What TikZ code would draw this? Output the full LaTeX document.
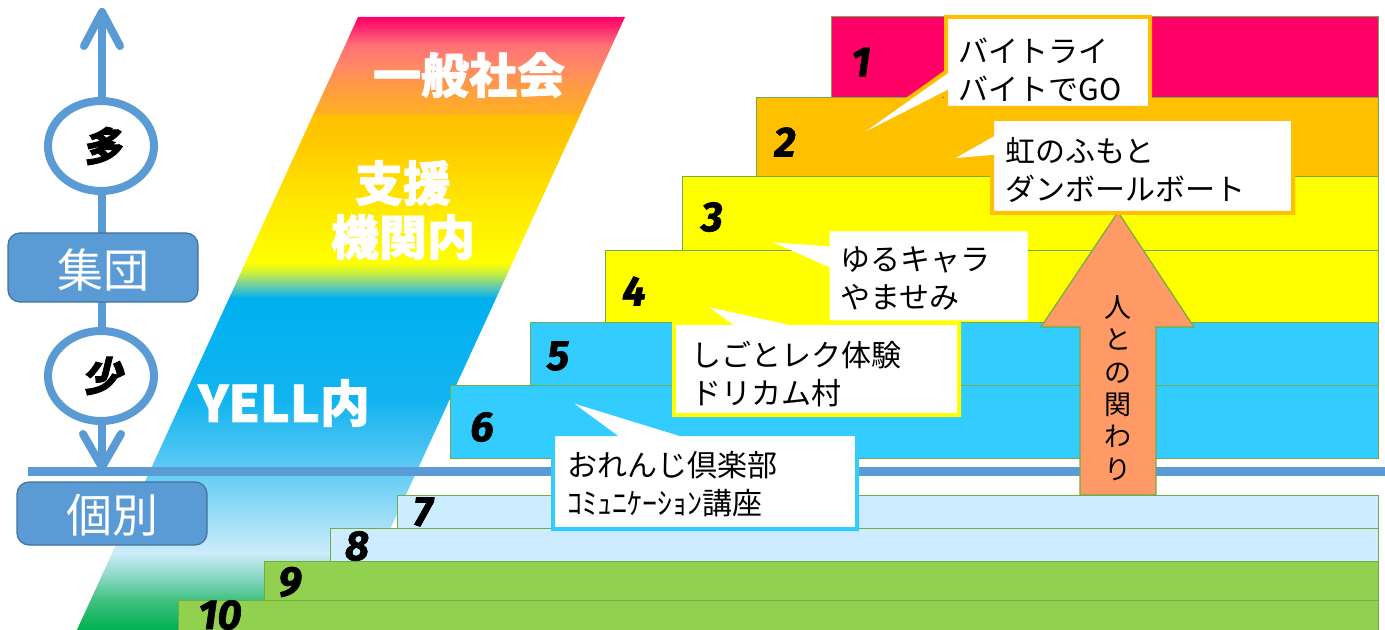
\documentclass[tikz,border=0pt]{standalone}
\usepackage{fontspec}
\newfontfamily\jp{Noto Sans CJK JP}
\newfontfamily\jph{Noto Sans CJK JP}[BoldFeatures={FakeBold=1.5}]
\newfontfamily\jpsl{Noto Sans CJK JP}[FakeSlant=0.25, BoldFeatures={FakeBold=2}]
\newfontfamily\numf{Fira Sans}[BoldItalicFeatures={FakeBold=1.5}]
\definecolor{axisblue}{HTML}{5B9BD5}
\definecolor{boxedge}{HTML}{41719C}
\definecolor{barline}{HTML}{70AD47}
\definecolor{cmag}{HTML}{FF0066}
\definecolor{corange}{HTML}{FFC000}
\definecolor{cyellow}{HTML}{FFFF00}
\definecolor{ccyan}{HTML}{33CCFF}
\definecolor{clight}{HTML}{CCECFF}
\definecolor{cgreen}{HTML}{92D050}
\definecolor{carrow}{HTML}{FF9966}
% top band colours
\definecolor{ta}{HTML}{FFB020}\definecolor{tb}{HTML}{FF9E40}\definecolor{tc}{HTML}{FF8866}
\definecolor{td}{HTML}{FF7078}\definecolor{te}{HTML}{FF3070}\definecolor{tf}{HTML}{FF0066}
% middle band colours
\definecolor{ma}{HTML}{00B0F0}\definecolor{mb}{HTML}{60C8B0}\definecolor{mc}{HTML}{C8EE40}
\definecolor{md}{HTML}{FFFF00}\definecolor{me}{HTML}{FFE600}\definecolor{mf}{HTML}{FFC800}\definecolor{mg}{HTML}{FFC000}
% bottom band colours
\definecolor{ba}{HTML}{00B050}\definecolor{bb}{HTML}{40C080}\definecolor{bc}{HTML}{90D8C8}
\definecolor{bd}{HTML}{CCECFA}\definecolor{be}{HTML}{A0DEF8}\definecolor{bf}{HTML}{6CCFF6}
\definecolor{bg}{HTML}{3EC0F2}\definecolor{bh}{HTML}{12B4F0}\definecolor{bi}{HTML}{00B0F0}
\pgfdeclareverticalshading{bandtop}{100bp}{color(0bp)=(ta); color(25bp)=(ta); color(37.8bp)=(tb); color(50.5bp)=(tc); color(60.7bp)=(td); color(68.4bp)=(te); color(75bp)=(tf); color(100bp)=(tf)}
\pgfdeclareverticalshading{bandmid}{100bp}{color(0bp)=(ma); color(25bp)=(ma); color(28bp)=(mb); color(31.8bp)=(mc); color(34.6bp)=(md); color(51.8bp)=(me); color(68.2bp)=(mf); color(75bp)=(mg); color(100bp)=(mg)}
\pgfdeclareverticalshading{bandbot}{100bp}{color(0bp)=(ba); color(25bp)=(ba); color(29.5bp)=(bb); color(33.3bp)=(bc); color(36.6bp)=(bd); color(41.6bp)=(be); color(47.6bp)=(bf); color(53.6bp)=(bg); color(59.6bp)=(bh); color(75bp)=(bi); color(100bp)=(bi)}
\tikzset{
  bar/.style={draw=barline, line width=0.5pt},
  num/.style={font=\numf\bfseries\itshape\fontsize{21}{21}\selectfont, inner sep=0pt},
  bandtext/.style={text=white, font=\jph\bfseries\fontsize{24}{29}\selectfont, align=center, inner sep=0pt},
  calltext/.style={font=\jp\fontsize{15}{19}\selectfont, align=left, anchor=west, inner sep=0pt},
  callout/.style={fill=white, line width=2pt, line join=miter},
  axisline/.style={draw=axisblue, line width=4pt, line cap=round, line join=round},
  axisring/.style={draw=axisblue, fill=white, line width=4pt},
  axisbox/.style={fill=axisblue, draw=boxedge, line width=0.6pt, rounded corners=6pt},
  axistext/.style={text=white, font=\jp\fontsize{23}{23}\selectfont, inner sep=0pt},
  ringtext/.style={font=\jpsl\bfseries\fontsize{20}{20}\selectfont, inner sep=0pt},
}
\begin{document}
\begin{tikzpicture}[x=0.5pt,y=-0.5pt]
\useasboundingbox[fill=white] (0,0) rectangle (1385,630);
% gradient band
\path[shading=bandtop] (358,17) -- (625,17) -- (580.1,115) -- (313.1,115) -- cycle;
\path[shading=bandmid] (313.1,115) -- (580.1,115) -- (496.2,298) -- (229.2,298) -- cycle;
\path[shading=bandbot] (229.2,298) -- (496.2,298) -- (343.9,630) -- (76.9,630) -- cycle;
\node[bandtext] (ippan) at (469,75) {一般社会};
\node[bandtext] (shien) at (403,210) {支援\\[-2pt]機関内};
\node[bandtext, font=\jph\bfseries\fontsize{25}{25}\selectfont] (yell) at (284,403) {YELL内};
% horizontal axis line
\draw[draw=axisblue, line width=4.5pt] (28,471) -- (1385,471);
% stairs
\draw[bar, fill=cmag]    (831,17)  rectangle (1378,98);
\draw[bar, fill=corange] (756,98)  rectangle (1378,177);
\draw[bar, fill=cyellow] (682,177) rectangle (1378,251);
\draw[bar, fill=cyellow] (605,251) rectangle (1378,323);
\draw[bar, fill=ccyan]   (530,323) rectangle (1378,385);
\draw[bar, fill=ccyan]   (450,385) rectangle (1378,458);
\draw[bar, fill=clight]  (397,495) rectangle (1378,528);
\draw[bar, fill=clight]  (330,528) rectangle (1378,561);
\draw[bar, fill=cgreen]  (264,561) rectangle (1378,600);
\draw[bar, fill=cgreen]  (178,600) rectangle (1378,640);
\node[num] (n1) at (861,62) {1};
\node[num] (n2) at (785,142) {2};
\node[num] (n3) at (712,217) {3};
\node[num] (n4) at (634,291) {4};
\node[num] (n5) at (558,356) {5};
\node[num] (n6) at (482,427) {6};
\node[num] (n7) at (423,512) {7};
\node[num] (n8) at (357,546) {8};
\node[num] (n9) at (290,582) {9};
\node[num] (n10) at (220,615) {10};
% vertical axis
\coordinate (atop) at (102,12);
\coordinate (abot) at (102,467);
\draw[axisline] (atop) -- (abot);
\draw[axisline] (84,46) -- (atop) -- (120,46);
\draw[axisline] (83,434) -- (abot) -- (121,434);
\draw[axisring] (101,146) ellipse [x radius=53, y radius=45];
\node[ringtext] (many) at (101,146) {多};
\draw[axisring] (101,376) ellipse [x radius=53, y radius=45];
\node[ringtext] (few) at (101,376) {少};
\draw[axisbox] (8,233) rectangle (198,302);
\node[axistext] (group) at (103,270) {集団};
\draw[axisbox] (17,482) rectangle (207,545);
\node[axistext] (indiv) at (112,515) {個別};
% big arrow
\draw[fill=carrow, draw=barline, line width=0.6pt, line join=miter]
  (1118,212) -- (1194,327) -- (1156,327) -- (1156,495) -- (1080,495) -- (1080,327) -- (1041,327) -- cycle;
\node[font=\jp\fontsize{13.5}{16.2}\selectfont, align=center, inner sep=0pt] (rel) at (1118,388) {人\\と\\の\\関\\わ\\り};
% callouts
\draw[callout, draw=corange] (946,17) -- (1150,17) -- (1150,108) -- (946,108) -- (946,93) -- (840,147) -- (946,72) -- cycle;
\node[calltext] (t1) at (958,70) {バイトライ\\バイトでGO};
\draw[callout, draw=corange] (992,119) -- (1293,119) -- (1293,213) -- (992,213) -- (992,157) -- (946,161) -- (992,135) -- cycle;
\node[calltext] (t2) at (1005,170) {虹のふもと\\ダンボールボート};
\draw[callout, draw=white, line width=0.5pt] (830,232) -- (1027,232) -- (1027,320) -- (830,320) -- (830,267) -- (776,243) -- (830,247) -- cycle;
\node[calltext] (t3) at (840,279) {ゆるキャラ\\やませみ};
\draw[callout, draw=cyellow] (674,323) -- (727,323) -- (700,303) -- (790,323) -- (959,323) -- (959,415) -- (674,415) -- cycle;
\node[calltext] (t4) at (691,374) {しごとレク体験\\ドリカム村};
\draw[callout, draw=ccyan] (553,434) -- (612,434) -- (563,398) -- (680,434) -- (857,434) -- (857,529) -- (553,529) -- cycle;
\node[calltext] (t5) at (567,484) {おれんじ倶楽部\\ｺﾐｭﾆｹｰｼｮﾝ講座};
\end{tikzpicture}
\end{document}
